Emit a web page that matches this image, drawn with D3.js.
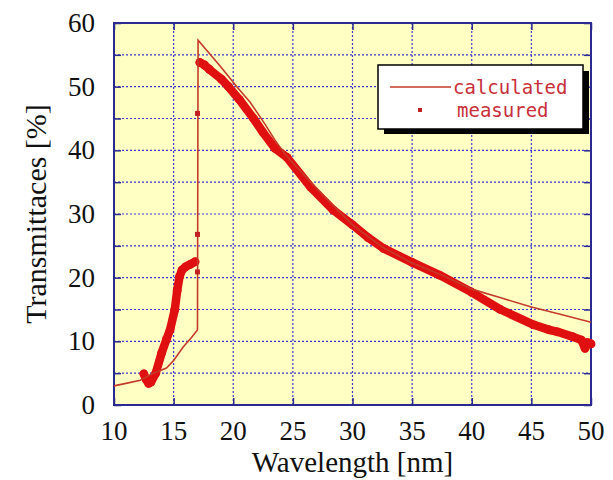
<!DOCTYPE html>
<html lang="en-US">
<head>
<meta charset="utf-8">
<style>
  body { margin: 0; background: #fff; }
  svg { display: block; }
  .serif { font-family: "Liberation Serif", "DejaVu Serif", serif; fill: #111; }
  .mono { font-family: "DejaVu Sans Mono", "Liberation Mono", monospace; }
</style>
</head>
<body>
<div id="chart"></div>
<script src="https://cdnjs.cloudflare.com/ajax/libs/d3/7.8.5/d3.min.js"></script>
<script>
// calculated curve
var calcX = [10, 11, 12.2, 13.3, 14.4, 15, 15.8, 16.5, 17.0, 17.05, 18, 19, 20.3, 21.4, 22.7, 23.5, 24.3, 25, 27.5, 30, 32.5, 35, 37.5, 40, 42.5, 45, 47.5, 50];
var calcY = [3.0, 3.4, 3.9, 5.0, 5.8, 7.0, 9.1, 10.6, 11.8, 57.3, 55.2, 53.0, 50, 47.6, 44, 41.6, 39.5, 38.0, 33, 28.3, 24.8, 22.3, 20.4, 18.2, 16.8, 15.4, 14.2, 13.0];

// measured, below the edge
var measLowX = [12.5, 12.7, 12.9, 13.1, 13.5, 14.0, 14.4, 14.7, 15.1, 15.3, 15.5, 15.7, 16.0, 16.4, 16.8];
var measLowY = [4.9, 4.0, 3.4, 3.6, 5.0, 8.2, 10.3, 11.8, 15.0, 18.0, 20.2, 21.2, 21.7, 22.1, 22.5];

// measured, isolated points on the edge
var measJumpX = [17.0, 17.0, 17.0];
var measJumpY = [20.9, 26.8, 45.8];

// measured, above the edge
var measHighX = [17.2, 17.6, 18, 19, 19.6, 20.5, 21.7, 22.5, 23.5, 24.5, 26.5, 28.4, 30, 31.3, 32.6, 35, 37.3, 40, 42.4, 45.2, 46.5, 47.2, 48.5, 49.2, 49.5, 49.7, 49.9, 50];
var measHighY = [53.8, 53.4, 52.7, 51.2, 50, 48, 45, 42.8, 40.3, 38.9, 34.2, 30.6, 28.3, 26.3, 24.6, 22.4, 20.4, 17.7, 15.0, 12.6, 11.8, 11.5, 10.7, 10.2, 8.9, 9.8, 9.7, 9.6];

var xTicks = [10, 15, 20, 25, 30, 35, 40, 45, 50];
var yTicks = [0, 10, 20, 30, 40, 50, 60];
var legendLabels = ["calculated", "measured"];

var W = 613, H = 480;
var mLeft = 114, mRight = 591, mTop = 23, mBottom = 405;

var svg = d3.select("#chart").append("svg").attr("width", W).attr("height", H);

var x = d3.scaleLinear().domain([10, 50]).range([mLeft, mRight]);
var y = d3.scaleLinear().domain([0, 60]).range([mBottom, mTop]);

// plot background
svg.append("rect")
  .attr("x", mLeft).attr("y", mTop)
  .attr("width", mRight - mLeft).attr("height", mBottom - mTop)
  .attr("fill", "#ffffc4");

// dotted grid every 5
var gridX = d3.range(15, 50, 5);
var gridY = d3.range(5, 60, 5);
svg.append("g").selectAll("line").data(gridX).join("line")
  .attr("x1", d => x(d)).attr("x2", d => x(d))
  .attr("y1", mTop).attr("y2", mBottom)
  .attr("stroke", "#3a3ad0").attr("stroke-width", 1.2)
  .attr("stroke-dasharray", "2,2");
svg.append("g").selectAll("line").data(gridY).join("line")
  .attr("y1", d => y(d)).attr("y2", d => y(d))
  .attr("x1", mLeft).attr("x2", mRight)
  .attr("stroke", "#3a3ad0").attr("stroke-width", 1.2)
  .attr("stroke-dasharray", "2,2");

// axes with inner ticks
function styleAxis(g) {
  g.selectAll("line").attr("stroke", "#2a2a90").attr("stroke-width", 1.5);
  g.select(".domain").remove();
}
svg.append("g").attr("transform", "translate(0," + mBottom + ")")
  .call(d3.axisBottom(x).tickValues(d3.range(10, 51, 5)).tickSize(-7).tickFormat(""))
  .call(styleAxis);
svg.append("g").attr("transform", "translate(0," + mTop + ")")
  .call(d3.axisTop(x).tickValues(d3.range(10, 51, 5)).tickSize(-7).tickFormat(""))
  .call(styleAxis);
svg.append("g").attr("transform", "translate(" + mLeft + ",0)")
  .call(d3.axisLeft(y).tickValues(d3.range(0, 61, 5)).tickSize(-7).tickFormat(""))
  .call(styleAxis);
svg.append("g").attr("transform", "translate(" + mRight + ",0)")
  .call(d3.axisRight(y).tickValues(d3.range(0, 61, 5)).tickSize(-7).tickFormat(""))
  .call(styleAxis);

// frame
svg.append("rect")
  .attr("x", mLeft).attr("y", mTop)
  .attr("width", mRight - mLeft).attr("height", mBottom - mTop)
  .attr("fill", "none").attr("stroke", "#2a2a90").attr("stroke-width", 2);

// tick labels
svg.append("g").selectAll("text").data(xTicks).join("text")
  .attr("class", "serif")
  .attr("x", d => x(d)).attr("y", 440)
  .attr("text-anchor", "middle")
  .style("font-size", "27px")
  .text(d => d);
svg.append("g").selectAll("text").data(yTicks).join("text")
  .attr("class", "serif")
  .attr("x", 95).attr("y", d => y(d) + 9)
  .attr("text-anchor", "end")
  .style("font-size", "27px")
  .text(d => d);

// axis titles
svg.append("text")
  .attr("class", "serif")
  .attr("x", (mLeft + mRight) / 2).attr("y", 472)
  .attr("text-anchor", "middle")
  .style("font-size", "29px")
  .text("Wavelength [nm]");
svg.append("text")
  .attr("class", "serif")
  .attr("transform", "translate(46," + ((mTop + mBottom) / 2) + ") rotate(-90)")
  .attr("text-anchor", "middle")
  .style("font-size", "30px")
  .text("Transmittaces [%]");

var line = d3.line().x(d => x(d[0])).y(d => y(d[1]));
var zip = (a, b) => a.map((v, i) => [v, b[i]]);

var calc = zip(calcX, calcY);
var low = zip(measLowX, measLowY);
var high = zip(measHighX, measHighY);
var jump = zip(measJumpX, measJumpY);

var red = "#e01010";

// measured band
[low, high].forEach(function (pts) {
  svg.append("path").datum(pts)
    .attr("d", line)
    .attr("fill", "none").attr("stroke", red)
    .attr("stroke-width", 8.5)
    .attr("stroke-linejoin", "round").attr("stroke-linecap", "round");
  svg.append("g").selectAll("circle").data(pts).join("circle")
    .attr("cx", d => x(d[0])).attr("cy", d => y(d[1])).attr("r", 4.4)
    .attr("fill", red);
});

// calculated line
svg.append("path").datum(calc)
  .attr("d", line)
  .attr("fill", "none").attr("stroke", "#c43a28")
  .attr("stroke-width", 1.6);

svg.append("g").selectAll("rect").data(jump).join("rect")
  .attr("x", d => x(d[0]) - 2.5).attr("y", d => y(d[1]) - 2.5)
  .attr("width", 5).attr("height", 5)
  .attr("fill", "#c02020");

// legend
var lg = svg.append("g");
lg.append("rect").attr("x", 384).attr("y", 71).attr("width", 205).attr("height", 63).attr("fill", "#000");
lg.append("rect").attr("x", 378).attr("y", 65).attr("width", 205).attr("height", 64)
  .attr("fill", "#fff").attr("stroke", "#000").attr("stroke-width", 1.5);
lg.append("line").attr("x1", 390).attr("x2", 451).attr("y1", 87).attr("y2", 87)
  .attr("stroke", "#c43a28").attr("stroke-width", 1.6);
lg.append("rect").attr("x", 418).attr("y", 108).attr("width", 4).attr("height", 4).attr("fill", "#c02020");
lg.selectAll("text").data(legendLabels).join("text")
  .attr("class", "mono")
  .attr("x", (d, i) => i === 0 ? 453 : 457)
  .attr("y", (d, i) => i === 0 ? 94 : 117)
  .style("font-size", "19px").style("fill", "#c8303a")
  .text(d => d);
</script>
</body>
</html>
